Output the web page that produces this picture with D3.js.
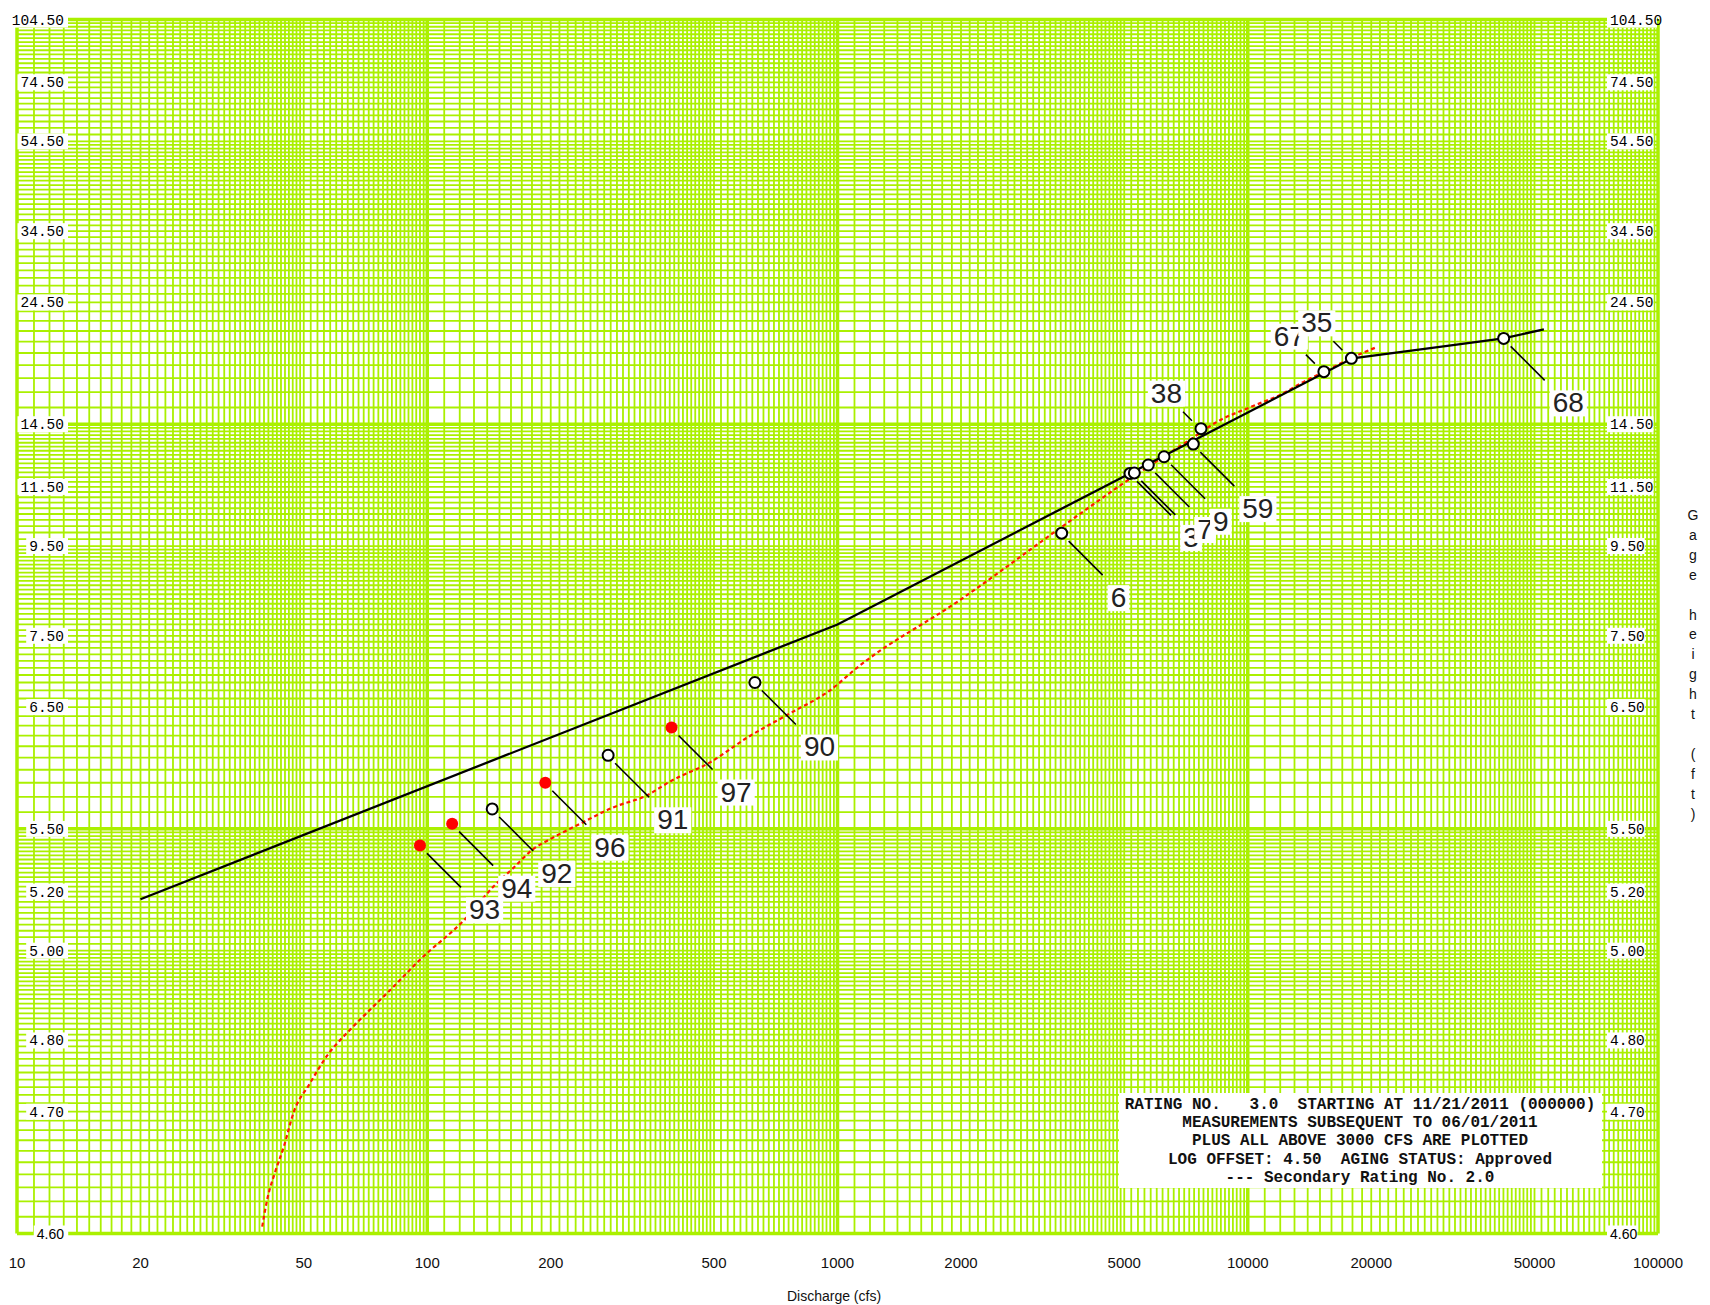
<!DOCTYPE html>
<html><head><meta charset="utf-8">
<script src="https://cdn.jsdelivr.net/npm/d3@7"></script>
<style>body{margin:0;background:#fff}svg{display:block}</style>
</head><body>
<svg id="c" width="1710" height="1305"></svg>
<script>
// ---------------- data ----------------
const logOffset = 4.5;
const xTickValues = [10,20,50,100,200,500,1000,2000,5000,10000,20000,50000,100000];
const yTickGH = [104.5,74.5,54.5,34.5,24.5,14.5,11.5,9.5,7.5,6.5,5.5,5.2,5.0,4.8,4.7,4.6];

// Rating No. 3.0 (black)
const ratingQ  = [20, 1000, 5200, 18000, 30000, 42000, 52700];
const ratingGH = [5.17, 7.70, 12.09, 19.05, 20.08, 20.80, 21.66];

// Secondary rating No. 2.0 (red dotted)
const secQ  = [39.6, 40.7, 42.6, 44.8, 47.3, 51.5, 57.0, 64.5, 72.9, 82.5, 96.0, 124, 145, 162, 181, 202, 236, 284, 343, 391, 489, 602, 766, 959, 1115, 1990, 3490, 5110, 7400, 8320, 10300, 11980, 13950, 15330, 17850, 20720];
const secGH = [4.604, 4.621, 4.642, 4.665, 4.700, 4.733, 4.775, 4.817, 4.859, 4.906, 4.975, 5.10, 5.22, 5.30, 5.39, 5.45, 5.53, 5.63, 5.71, 5.81, 5.96, 6.18, 6.43, 6.70, 7.00, 8.18, 10.04, 11.78, 13.80, 14.57, 15.59, 16.31, 17.36, 17.96, 19.07, 20.04];

// Measurements
const measNum  = ["93","94","92","96","91","97","90","6", null, "3", "7", "9", "59","38","67","35","68"];
const measQ    = [96, 115, 144, 194, 276, 394, 629, 3519, 5164, 5291, 5722, 6251, 7367, 7692, 15330, 17890, 42060];
const measGH   = [5.41, 5.53, 5.62, 5.80, 6.02, 6.28, 6.80, 9.88, 12.06, 12.08, 12.43, 12.81, 13.43, 14.25, 17.99, 19.05, 20.80];
const measRecent = [1,1,0,1,0,1,0,0,0,0,0,0,0,0,0,0,0];

const legendLines = [
  "RATING NO.   3.0  STARTING AT 11/21/2011 (000000)",
  "MEASUREMENTS SUBSEQUENT TO 06/01/2011",
  "PLUS ALL ABOVE 3000 CFS ARE PLOTTED",
  "LOG OFFSET: 4.50  AGING STATUS: Approved",
  "--- Secondary Rating No. 2.0"
];
const xTitle = "Discharge (cfs)";
const yTitle = "Gage height (ft)";

// ---------------- drawing ----------------
const svg = d3.select("#c");
const L = 17, R = 1658, T = 19.6, B = 1233.5;
const x = d3.scaleLog().domain([10, 100000]).range([L, R]);
const y = d3.scaleLog().domain([0.1, 100]).range([B, T]);
const yg = gh => y(gh - logOffset);
const GREEN = "#aaf000";

svg.append("rect").attr("width",1710).attr("height",1305).attr("fill","#fff");

// grid mantissas
const mant = [];
for (let i = 10; i < 20; i++) mant.push(i/10);
for (let i = 20; i < 50; i++) mant.push(i/10);
for (let i = 50; i < 100; i += 2) mant.push(i/10);

const gx = [], gy = [];
[10,100,1000,10000].forEach(b => mant.forEach(m => gx.push({v:b*m, major:m===1})));
gx.push({v:100000, major:true});
[0.1,1,10].forEach(b => mant.forEach(m => gy.push({v:b*m, major:m===1})));
gy.push({v:100, major:true});

const grid = svg.append("g");
grid.selectAll("line.v").data(gx).join("line")
  .attr("x1", d => x(d.v)).attr("x2", d => x(d.v))
  .attr("y1", T).attr("y2", B)
  .attr("stroke", GREEN).attr("stroke-width", d => d.major ? 3.5 : 1.8);
grid.selectAll("line.h").data(gy).join("line")
  .attr("y1", d => y(d.v)).attr("y2", d => y(d.v))
  .attr("x1", L).attr("x2", R)
  .attr("stroke", GREEN).attr("stroke-width", d => d.major ? 3.5 : 1.8);

// y tick labels (left & right) with white boxes
const monoFont = "'Liberation Mono', 'DejaVu Sans Mono', monospace";
const sansFont = "'Liberation Sans', Arial, sans-serif";
const tl = svg.append("g");
yTickGH.forEach(gh => {
  const ty = yg(gh);
  const last = gh === 4.6;
  const fam = last ? sansFont : monoFont;
  const fs = last ? 14 : 14.5;
  // left
  const t1 = tl.append("text").attr("x", 64).attr("y", ty + 5)
    .attr("text-anchor","end").attr("font-family", fam).attr("font-size", fs)
    .attr("fill","#000").text(gh.toFixed(2));
  const b1 = t1.node().getBBox();
  tl.insert("rect", () => t1.node()).attr("x", b1.x - 3).attr("y", ty - 8)
    .attr("width", b1.width + 7).attr("height", 16).attr("fill","#fff");
  // right
  const t2 = tl.append("text").attr("x", 1610).attr("y", ty + 5)
    .attr("text-anchor","start").attr("font-family", fam).attr("font-size", fs)
    .attr("fill","#000").text(gh.toFixed(2));
  const b2 = t2.node().getBBox();
  tl.insert("rect", () => t2.node()).attr("x", b2.x - 3).attr("y", ty - 8)
    .attr("width", Math.min(b2.width + 3, 1657 - b2.x + 3)).attr("height", 16).attr("fill","#fff");
});

// x tick labels
svg.append("g").selectAll("text").data(xTickValues).join("text")
  .attr("x", d => x(d)).attr("y", 1268).attr("text-anchor","middle")
  .attr("font-family", sansFont).attr("font-size", 15).attr("fill","#111")
  .text(d => d);

svg.append("text").attr("x", 834).attr("y", 1301).attr("text-anchor","middle")
  .attr("font-family", sansFont).attr("font-size", 14).attr("fill","#111").text(xTitle);

// vertical y title, one letter per row
const yt = svg.append("text").attr("font-family", sansFont).attr("font-size", 14)
  .attr("fill","#111").attr("text-anchor","middle");
yTitle.split("").forEach((ch, i) => {
  yt.append("tspan").attr("x", 1693).attr("y", 520 + i * 19.9).text(ch === " " ? "\u00a0" : ch);
});

// legend box
const lg = svg.append("g");
lg.append("rect").attr("x", 1119).attr("y", 1093).attr("width", 483).attr("height", 95).attr("fill","#fff");
legendLines.forEach((s, i) => {
  lg.append("text").attr("x", 1360).attr("y", 1109 + i * 18.2).attr("text-anchor","middle")
    .attr("font-family", monoFont).attr("font-size", 16).attr("font-weight", "bold").attr("fill","#111")
    .attr("xml:space","preserve").style("white-space","pre").text(s);
});

// curves
const redLine = d3.line().x(d => x(d[0])).y(d => yg(d[1])).curve(d3.curveMonotoneX);
const line = d3.line().x(d => x(d[0])).y(d => yg(d[1]));
svg.append("path").attr("d", redLine(d3.zip(secQ, secGH)))
  .attr("fill","none").attr("stroke","#ff1a00").attr("stroke-width", 2.2)
  .attr("stroke-dasharray","4 3");
svg.append("path").attr("d", line(d3.zip(ratingQ, ratingGH)))
  .attr("fill","none").attr("stroke","#000").attr("stroke-width", 2.3);

// measurements
const meas = measQ.map((q, i) => ({n: measNum[i], q, gh: measGH[i], recent: measRecent[i]}));
const upLeft = new Set(["38","67","35"]);
const leaders = svg.append("g"), labels = svg.append("g"), marks = svg.append("g");
const numFont = "'Liberation Sans', Arial, sans-serif";
meas.forEach(d => {
  const px = x(d.q), py = yg(d.gh);
  const ul = d.n && upLeft.has(d.n);
  if (ul) {
    leaders.append("line").attr("x1", px - 18).attr("y1", py - 17).attr("x2", px - 9).attr("y2", py - 8)
      .attr("stroke","#000").attr("stroke-width",1.5);
  } else {
    leaders.append("line").attr("x1", px + 7).attr("y1", py + 8).attr("x2", px + 41).attr("y2", py + 42)
      .attr("stroke","#000").attr("stroke-width",1.6);
  }
  if (d.n) {
    const g = labels.append("g");
    const t = g.append("text").attr("font-family", numFont).attr("font-size", 28).attr("fill","#222")
      .attr("x", ul ? px - 19 : px + 49).attr("y", ul ? py - 26 : py + 74)
      .attr("text-anchor", ul ? "end" : "start").text(d.n);
    const bb = t.node().getBBox();
    const by = (ul ? py - 26 : py + 74) - 22;
    g.insert("rect", "text").attr("x", bb.x - 3).attr("y", by).attr("width", bb.width + 6).attr("height", 26)
      .attr("fill","#fff");
  }
  if (d.recent) {
    marks.append("circle").attr("cx", px).attr("cy", py).attr("r", 6).attr("fill","#ff0000");
  } else {
    marks.append("circle").attr("cx", px).attr("cy", py).attr("r", 5.5)
      .attr("fill","#fff").attr("stroke","#000").attr("stroke-width", 2);
  }
});
</script>
</body></html>
